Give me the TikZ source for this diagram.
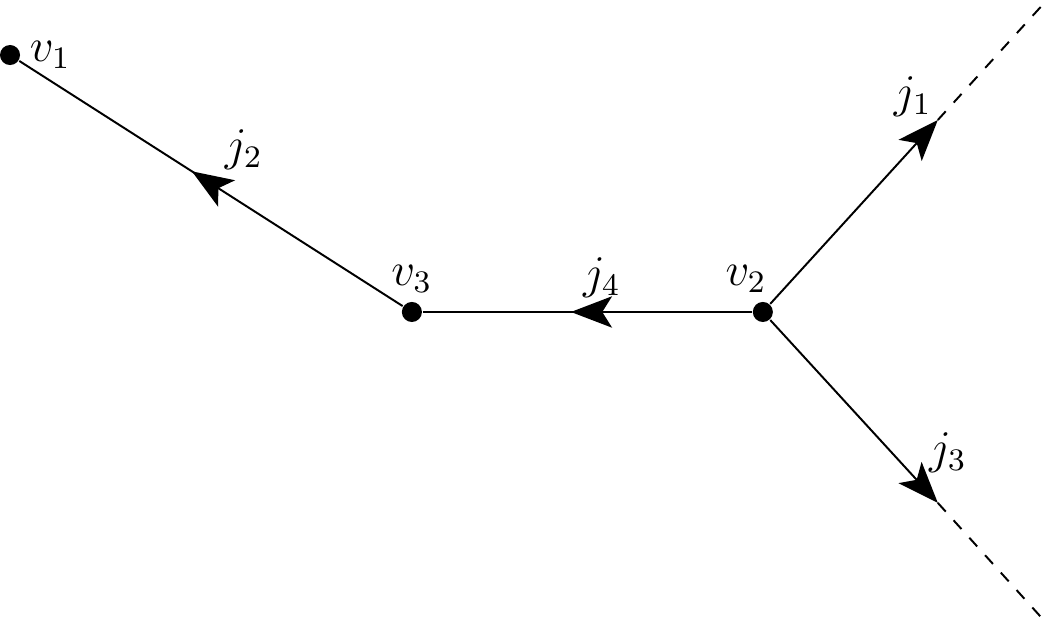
\documentclass[tikz,border=0pt]{standalone}
\usetikzlibrary{arrows.meta,decorations.markings}
\begin{document}
\begin{tikzpicture}[
        dot/.style = {circle, fill=black, inner sep=0pt, minimum size=0.18cm},
        midarrow/.style = {postaction={decorate},
            decoration={markings, mark=at position #1 with {\arrow{Stealth[length=10.5pt,width=8pt,inset=2.5pt]}}}},
        endarrow/.style = {-{Stealth[length=10.5pt,width=8pt,inset=2.5pt]}},
        every label/.append style = {inner sep=2pt},
        line width=0.5pt, font=\large
    ]
        \useasboundingbox (0,0) rectangle (9.40,-5.60);
        \node[dot,label={right:$v_1$}] (v1) at (0.09,-0.494) {};
        \node[dot,label={above:$v_3$}] (v3) at (3.698,-2.801) {};
        \node[dot,label={[xshift=-0.15cm]above:$v_2$}] (v2) at (6.849,-2.801) {};
        \coordinate (e1) at (8.42,-1.077);
        \coordinate (f1) at (9.40,0);
        \coordinate (e3) at (8.42,-4.515);
        \coordinate (f3) at (9.40,-5.60);
        % edges
        \draw[midarrow=0.55] (v3) -- node[above right] (j2) {$j_2$} (v1);
        \draw[midarrow=0.55] (v2) -- node[above,xshift=0.13cm] (j4) {$j_4$} (v3);
        \draw[endarrow] (v2) -- (e1) node[above left,xshift=0.07cm,yshift=-0.1cm] (j1) {$j_1$};
        \draw[endarrow] (v2) -- (e3) node[above,xshift=0.09cm,yshift=0.15cm] (j3) {$j_3$};
        \draw[dashed] (e1) -- (f1);
        \draw[dashed] (e3) -- (f3);
    \end{tikzpicture}
\end{document}
